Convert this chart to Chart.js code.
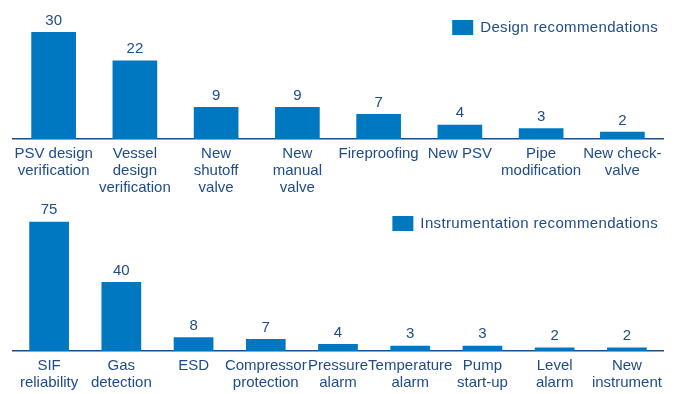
<!DOCTYPE html>
<html>
<head>
<meta charset="utf-8">
<script src="https://cdn.jsdelivr.net/npm/chart.js@4"></script>
<style>
  html, body { margin: 0; padding: 0; background: #fff; }
  #wrap { position: relative; width: 675px; height: 394px; }
  canvas { position: absolute; left: 0; }
  #designChart { top: 0; }
  #instrChart { top: 197px; }
</style>
</head>
<body>
<div id="wrap">
  <canvas id="designChart" width="675" height="197"></canvas>
  <canvas id="instrChart" width="675" height="197"></canvas>
</div>
<script>
// Datos
const designLabels = [['PSV design', 'verification'], ['Vessel', 'design', 'verification'], ['New', 'shutoff', 'valve'], ['New', 'manual', 'valve'], 'Fireproofing', 'New PSV', ['Pipe', 'modification'], ['New check-', 'valve']];
const designValues = [30, 22, 9, 9, 7, 4, 3, 2];

const instrLabels = [['SIF', 'reliability'], ['Gas', 'detection'], 'ESD', ['Compressor', 'protection'], ['Pressure', 'alarm'], ['Temperature', 'alarm'], ['Pump', 'start-up'], ['Level', 'alarm'], ['New', 'instrument']];
const instrValues = [75, 40, 8, 7, 4, 3, 3, 2, 2];

const barColor = '#0078c1';
const textColor = '#1f4b8a';
const fontFamily = '"Liberation Sans", Arial, sans-serif';
const fontSize = 15;

// Etiquetas de valor encima de las barras
const valueLabels = {
    id: 'valueLabels',
    afterDatasetsDraw(chart) {
        const ctx = chart.ctx;
        ctx.save();
        ctx.font = fontSize + 'px ' + fontFamily;
        ctx.fillStyle = textColor;
        ctx.textAlign = 'center';
        ctx.textBaseline = 'bottom';
        chart.getDatasetMeta(0).data.forEach((bar, i) => {
            ctx.fillText(chart.data.datasets[0].data[i], bar.x, bar.y - 4);
        });
        ctx.restore();
    }
};

// Leyenda dibujada arriba a la derecha, dentro del area del grafico
const cornerLegend = {
    id: 'cornerLegend',
    afterDraw(chart, args, opts) {
        const ctx = chart.ctx;
        const text = chart.data.datasets[0].label;
        ctx.save();
        ctx.font = fontSize + 'px ' + fontFamily;
        ctx.letterSpacing = '0.35px';
        const w = ctx.measureText(text).width;
        const boxX = opts.right - w - 7 - 21;
        ctx.fillStyle = barColor;
        ctx.fillRect(boxX, opts.top, 21, 15);
        ctx.fillStyle = textColor;
        ctx.textAlign = 'left';
        ctx.textBaseline = 'middle';
        ctx.fillText(text, boxX + 28, opts.top + 8);
        ctx.restore();
    }
};

function makeChart(id, labels, values, name, yMax, padTop, axisHeight, legendTop) {
    return new Chart(document.getElementById(id), {
        type: 'bar',
        data: {
            labels: labels,
            datasets: [{
                label: name,
                data: values,
                backgroundColor: barColor,
                borderWidth: 0,
                barPercentage: 0.55,
                categoryPercentage: 1
            }]
        },
        options: {
            responsive: false,
            animation: false,
            devicePixelRatio: 1,
            layout: { padding: { top: padTop, left: 13, right: 12, bottom: 0 } },
            plugins: {
                legend: { display: false },
                tooltip: { enabled: false },
                cornerLegend: { right: 658, top: legendTop }
            },
            scales: {
                x: {
                    grid: { display: false, drawTicks: false },
                    border: { display: true, color: textColor, width: 1.5 },
                    ticks: {
                        color: textColor,
                        autoSkip: false,
                        maxRotation: 0,
                        padding: 6,
                        font: { family: fontFamily, size: fontSize, lineHeight: 1.15 }
                    },
                    afterFit(scale) { scale.height = axisHeight; }
                },
                y: {
                    display: false,
                    min: 0,
                    max: yMax
                }
            }
        },
        plugins: [valueLabels, cornerLegend]
    });
}

makeChart('designChart', designLabels, designValues, 'Design recommendations', 36.2, 10, 58, 20);
makeChart('instrChart', instrLabels, instrValues, 'Instrumentation recommendations', 84.1, 9, 43, 19);
</script>
</body>
</html>
